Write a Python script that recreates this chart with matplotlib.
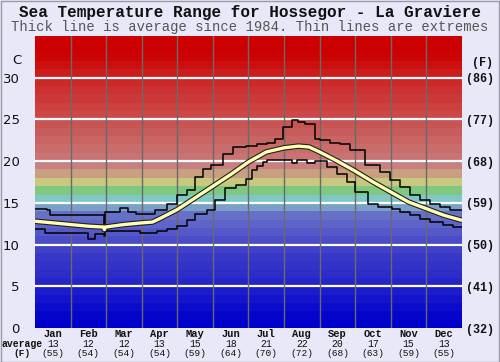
import matplotlib
matplotlib.use("Agg")
import matplotlib.pyplot as plt
import matplotlib.patheffects as pe
from matplotlib.transforms import blended_transform_factory

# ---------------- data ----------------
months = ['Jan', 'Feb', 'Mar', 'Apr', 'May', 'Jun', 'Jul', 'Aug', 'Sep', 'Oct', 'Nov', 'Dec']
avg_c = [13, 12, 12, 13, 15, 18, 21, 22, 20, 17, 15, 13]
avg_f = [55, 54, 54, 54, 59, 64, 70, 72, 68, 63, 59, 55]

c_ticks = [0, 5, 10, 15, 20, 25, 30]
f_labels = ['(32)', '(41)', '(50)', '(59)', '(68)', '(77)', '(86)']

# average line (time in months, temperature C)
mean_t = [0.0, 0.5, 1.0, 1.5, 1.93, 1.95, 1.98, 2.5, 3.0, 3.3, 3.5, 4.0, 4.5, 5.0, 5.5, 6.0,
          6.5, 7.0, 7.4, 7.7, 8.0, 8.5, 9.0, 9.5, 10.0, 10.5, 11.0, 11.5, 12.0]
mean_v = [12.8, 12.6, 12.4, 12.2, 12.1, 11.8, 12.1, 12.4, 12.6, 12.7, 13.1, 14.2, 15.6, 17.0, 18.4, 19.9,
          21.1, 21.6, 21.8, 21.7, 21.1, 20.0, 18.8, 17.5, 16.3, 15.1, 14.3, 13.5, 12.9]

# maximum extremes (step starts in months, temperature C)
max_t = [0.0, 0.33, 0.42, 1.63, 1.94, 1.97, 2.39, 2.62, 2.85, 3.37, 3.70, 3.98, 4.26, 4.49, 4.73,
         4.96, 5.29, 5.57, 5.94, 6.23, 6.51, 6.74, 6.98, 7.21, 7.40, 7.58, 7.87, 8.01, 8.29, 8.57,
         8.85, 9.27, 9.69, 9.97, 10.25, 10.53, 10.81, 11.10, 11.38, 11.66, 12.0]
max_v = [14.3, 14.1, 13.6, 13.5, 11.9, 13.9, 14.4, 13.9, 13.7, 14.1, 14.9, 15.9, 16.5, 18.1, 19.0,
         19.5, 20.9, 21.7, 21.8, 22.0, 22.2, 22.6, 24.1, 24.9, 24.7, 24.4, 22.7, 22.5, 22.2, 22.1,
         21.3, 19.5, 18.7, 17.7, 16.9, 15.9, 15.3, 14.9, 14.5, 14.1, 14.1]

# minimum extremes
min_t = [0.0, 0.28, 1.50, 1.69, 1.94, 1.97, 2.95, 3.42, 3.70, 3.98, 4.26, 4.49, 4.82, 5.06, 5.34,
         5.66, 5.94, 6.10, 6.23, 6.40, 6.51, 7.21, 7.35, 7.63, 7.87, 8.20, 8.48, 8.76, 9.00, 9.37,
         9.65, 10.03, 10.25, 10.53, 10.81, 11.10, 11.47, 11.75, 12.0]
min_v = [11.9, 11.4, 10.7, 11.3, 11.0, 11.6, 11.4, 11.6, 11.9, 12.2, 12.9, 13.7, 14.1, 15.3, 16.8,
         17.1, 17.9, 18.9, 19.4, 19.9, 20.1, 19.8, 20.1, 19.8, 20.0, 19.3, 18.5, 17.5, 16.3, 14.9,
         14.5, 14.3, 13.9, 13.5, 13.1, 12.7, 12.3, 12.1, 12.1]

# background bands, one per degree from 0 to 35 C
band_colors = ['#0000cc', '#0404cc', '#0c0ccc', '#1414cc', '#1c1ccc', '#2424c8', '#2c2cc8', '#3232c8',
               '#3838c8', '#4040c8', '#4a4cc8', '#5458c8', '#5e64c8', '#6670c8', '#7aa0c8', '#80c8c8',
               '#80c880', '#c8c880', '#c8a080', '#c88080', '#c87474', '#c86c6c', '#c86464', '#c85c5c',
               '#c85454', '#cc4848', '#cc4040', '#cc3838', '#cc3030', '#cc2828', '#cc1c1c', '#cc1010',
               '#cc0404', '#cc0000', '#cc0000']

# ---------------- figure ----------------
bg = '#e8e8f8'
fig = plt.figure(figsize=(5.0, 3.62), dpi=100, facecolor=bg)
ax = fig.add_axes([35 / 500, 1 - 328 / 362, 427 / 500, 292 / 362])
ax.set_xlim(0, 12)
ax.set_ylim(0, 35)

for i, col in enumerate(band_colors):
    ax.axhspan(i, i + 1, color=col, lw=0, zorder=0)
for c in c_ticks[1:]:
    ax.axhline(c, color='white', lw=1.6, zorder=1)
for m in range(1, 12):
    ax.axvline(m, color='#6a6a6a', lw=1.0, zorder=1)

ax.step(max_t, max_v, where='post', color='black', lw=1.1, zorder=3)
ax.step(min_t, min_v, where='post', color='black', lw=1.1, zorder=3)
ax.plot(mean_t, mean_v, color='#ffffb4', lw=2.4, zorder=4, solid_capstyle='butt',
        path_effects=[pe.Stroke(linewidth=4.0, foreground='#202020'), pe.Normal()])

for s in ax.spines.values():
    s.set_visible(False)
ax.set_xticks([])
ax.set_yticks(c_ticks)
ax.set_yticklabels([str(c) for c in c_ticks], fontsize=9.5, family='DejaVu Sans', color='#111111')
ax.tick_params(axis='y', length=0, pad=11)

ax2 = ax.twinx()
ax2.set_ylim(0, 35)
ax2.set_yticks(c_ticks)
ax2.set_yticklabels(f_labels, fontsize=8.5, family='Liberation Mono', fontweight='bold', color='#111111')
ax2.tick_params(axis='y', length=0, pad=3)
for s in ax2.spines.values():
    s.set_visible(False)

# axis unit labels
fig.text(17 / 500, 1 - 61 / 362, 'C', fontsize=9.5, family='DejaVu Sans', ha='center', va='center', color='#111111')
fig.text(483 / 500, 1 - 63 / 362, '(F)', fontsize=8.5, family='Liberation Mono', fontweight='bold',
         ha='center', va='center', color='#111111')

# month labels
tr = blended_transform_factory(ax.transData, fig.transFigure)
for i, (mname, c, f) in enumerate(zip(months, avg_c, avg_f)):
    x = i + 0.5
    ax.text(x, 1 - 334 / 362, mname, transform=tr, ha='center', va='center', fontsize=7.5,
            family='Liberation Mono', fontweight='bold', color='#111111')
    ax.text(x, 1 - 344 / 362, str(c), transform=tr, ha='center', va='center', fontsize=7,
            family='Liberation Mono', color='#111111')
    ax.text(x, 1 - 354 / 362, '(%d)' % f, transform=tr, ha='center', va='center', fontsize=6.8,
            family='Liberation Mono', color='#111111')
fig.text(22 / 500, 1 - 344 / 362, 'average', fontsize=7, family='Liberation Mono', fontweight='bold',
         ha='center', va='center', color='#111111')
fig.text(22 / 500, 1 - 354 / 362, '(F)', fontsize=6.8, family='Liberation Mono', fontweight='bold',
         ha='center', va='center', color='#111111')

# titles
fig.text(0.5, 1 - 12.5 / 362, 'Sea Temperature Range for Hossegor - La Graviere', fontsize=11.5,
         family='Liberation Mono', fontweight='bold', ha='center', va='center', color='#111111')
fig.text(0.5, 1 - 27.5 / 362, 'Thick line is average since 1984. Thin lines are extremes', fontsize=10,
         family='Liberation Mono', ha='center', va='center', color='#555555')

# figure border
fig.patches.append(plt.Rectangle((0.001, 0.001), 0.997, 0.997, transform=fig.transFigure,
                                 fill=False, edgecolor='#9a9aa8', lw=1.0))

fig.savefig('out.png', dpi=100, facecolor=bg)
